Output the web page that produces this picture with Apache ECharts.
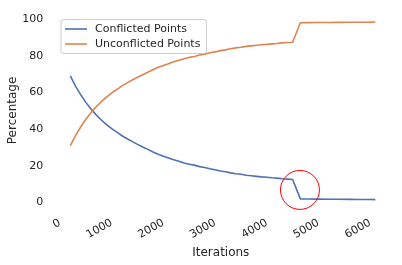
<!DOCTYPE html>
<html>
<head>
<meta charset="utf-8">
<script src="https://cdn.jsdelivr.net/npm/echarts@6/dist/echarts.min.js"></script>
<style>
html,body{margin:0;padding:0;background:#fff;}
#chart{width:402px;height:265px;}
</style>
</head>
<body>
<div id="chart"></div>
<script>
var iterations = [200,300,400,500,600,700,800,900,1000,1100,1200,1300,1400,1500,1600,1700,1800,1900,2000,2100,2200,2300,2400,2500,2600,2700,2800,2900,3000,3100,3200,3300,3400,3500,3600,3700,3800,3900,4000,4100,4200,4300,4400,4500,4650,4800,5000,5200,5400,5600,5800,6000,6100];
var conflicted = [69.0,63.5,58.8,54.6,51.0,47.8,45.0,42.5,40.3,38.4,36.4,34.8,33.2,31.7,30.3,29.0,27.6,26.3,25.3,24.3,23.3,22.5,21.6,20.9,20.4,19.6,19.1,18.4,17.9,17.2,16.8,16.2,15.7,15.4,14.9,14.6,14.3,14.0,13.8,13.5,13.3,13.0,12.8,12.6,2.0,1.95,1.9,1.85,1.8,1.75,1.7,1.65,1.6];
var unconflicted = [31.0,36.5,41.2,45.4,49.0,52.2,55.0,57.5,59.7,61.6,63.6,65.2,66.8,68.3,69.7,71.0,72.4,73.7,74.7,75.7,76.7,77.5,78.4,79.1,79.6,80.4,80.9,81.6,82.1,82.8,83.2,83.8,84.3,84.6,85.1,85.4,85.7,86.0,86.2,86.5,86.7,87.0,87.2,87.4,98.0,98.05,98.1,98.15,98.2,98.25,98.3,98.35,98.4];
var xTicks = [0,1000,2000,3000,4000,5000,6000];
var yTicks = [0,20,40,60,80,100];
var seriesNames = ['Conflicted Points','Unconflicted Points'];
var highlight = [4642, 6.9];

function pairs(xs, ys){ return xs.map(function(x,i){ return [x, ys[i]]; }); }

var textColor = '#262626';
var font = 'DejaVu Sans';
var chart = echarts.init(document.getElementById('chart'));
chart.setOption({
  animation: false,
  backgroundColor: '#ffffff',
  textStyle: {fontFamily: font},
  grid: {left: 54.8, right: 12.2, top: 13, bottom: 57.1, containLabel: false, outerBoundsMode: 'none'},
  legend: {
    orient: 'vertical', left: 61, top: 19.5,
    icon: 'rect',
    padding: [3, 6, 3, 4], itemGap: 2, itemWidth: 22, itemHeight: 1.6,
    borderColor: '#cccccc', borderWidth: 1, borderRadius: 3,
    backgroundColor: 'rgba(255,255,255,0.8)',
    textStyle: {fontSize: 11, lineHeight: 13, color: textColor, fontFamily: font, padding: [0,0,0,3]},
    data: seriesNames
  },
  xAxis: {
    type: 'value', min: -100, max: 6380,
    name: 'Iterations', nameLocation: 'middle', nameGap: 33.5,
    nameTextStyle: {fontSize: 12, color: textColor, fontFamily: font, padding: [0,3,0,0]},
    axisLine: {show: false}, axisTick: {show: false}, splitLine: {show: false},
    axisLabel: {customValues: xTicks, rotate: 30, margin: 14, fontSize: 11, color: textColor, fontFamily: font,
      formatter: function(v){ return String(v); }}
  },
  yAxis: {
    type: 'value', min: -2.9, max: 103.3,
    name: 'Percentage', nameLocation: 'middle', nameGap: 36, nameMoveOverlap: false,
    nameTextStyle: {fontSize: 12, color: textColor, fontFamily: font},
    axisLine: {show: false}, axisTick: {show: false}, splitLine: {show: false},
    axisLabel: {customValues: yTicks, margin: 11.5, fontSize: 11, color: textColor, fontFamily: font,
      padding: [2,0,0,0],
      formatter: function(v){ return String(v); }}
  },
  series: [
    {
      name: seriesNames[0], type: 'line', symbol: 'none',
      data: pairs(iterations, conflicted),
      lineStyle: {color: '#4c72b0', width: 1.6}, itemStyle: {color: '#4c72b0'},
      markPoint: {
        symbol: 'circle', symbolSize: 39, silent: true,
        label: {show: false},
        itemStyle: {color: 'rgba(0,0,0,0)', borderColor: '#ff0000', borderWidth: 1},
        data: [{coord: highlight}]
      }
    },
    {
      name: seriesNames[1], type: 'line', symbol: 'none',
      data: pairs(iterations, unconflicted),
      lineStyle: {color: '#dd8452', width: 1.6}, itemStyle: {color: '#dd8452'}
    }
  ]
});
</script>
</body>
</html>
